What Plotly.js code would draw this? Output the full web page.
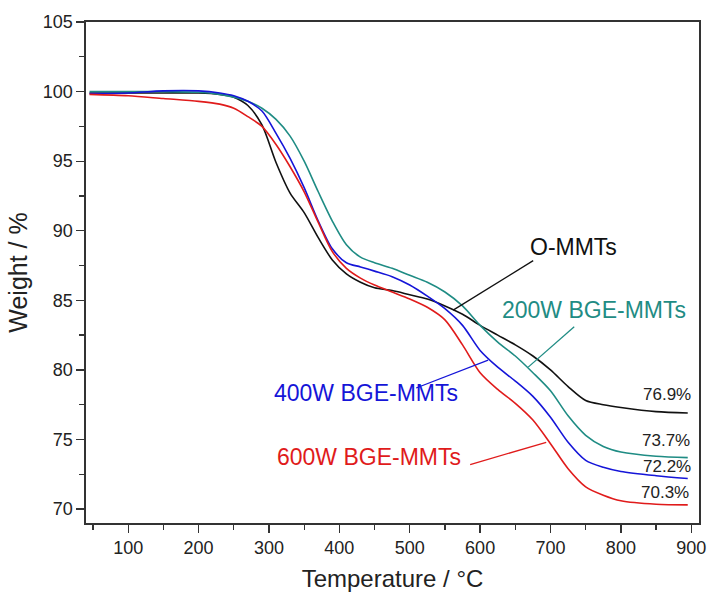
<!DOCTYPE html>
<html>
<head>
<meta charset="utf-8">
<script src="https://cdn.plot.ly/plotly-3.0.1.min.js"></script>
<style>html,body{margin:0;padding:0;background:#fff;}#chart{width:709px;height:594px;}</style>
</head>
<body>
<div id="chart"></div>
<script>
// Temperature (°C)
const temperature = [45, 100, 150, 200, 230, 250, 270, 290, 310, 330, 350, 370, 390, 410, 430, 450, 475, 500, 525, 550, 575, 600, 625, 650, 675, 700, 725, 750, 775, 800, 850, 895];
// Weight (%)
const oMMTs   = [99.9, 99.9, 99.9, 99.9, 99.8, 99.6, 99.0, 97.6, 94.9, 92.7, 91.3, 89.5, 87.9, 86.9, 86.3, 85.9, 85.7, 85.4, 85.1, 84.6, 84.0, 83.2, 82.5, 81.8, 81.0, 80.0, 78.8, 77.8, 77.5, 77.3, 77.0, 76.9];
const bge200W = [100.0, 100.0, 100.0, 99.95, 99.8, 99.6, 99.3, 98.8, 98.0, 96.8, 95.0, 92.8, 90.7, 89.0, 88.1, 87.7, 87.3, 86.8, 86.3, 85.6, 84.6, 83.2, 82.0, 81.0, 79.8, 78.5, 76.7, 75.3, 74.5, 74.1, 73.8, 73.7];
const bge400W = [99.85, 99.9, 100.05, 100.05, 99.9, 99.7, 99.3, 98.6, 97.0, 95.2, 93.1, 90.7, 88.7, 87.7, 87.4, 87.1, 86.7, 86.1, 85.3, 84.4, 83.2, 81.4, 80.2, 79.2, 78.1, 76.6, 74.8, 73.5, 73.0, 72.7, 72.4, 72.2];
const bge600W = [99.8, 99.7, 99.5, 99.3, 99.1, 98.8, 98.2, 97.5, 96.2, 94.6, 92.8, 90.6, 88.5, 87.3, 86.6, 86.1, 85.6, 85.1, 84.5, 83.6, 81.8, 79.8, 78.6, 77.6, 76.4, 74.7, 72.9, 71.6, 71.0, 70.6, 70.35, 70.3];
const seriesNames = ["O-MMTs", "200W BGE-MMTs", "400W BGE-MMTs", "600W BGE-MMTs"];
const residueLabels = ["76.9%", "73.7%", "72.2%", "70.3%"];

const colors = ["#111111", "#1f8c84", "#1515d8", "#e01b1b"];
const series = [oMMTs, bge200W, bge400W, bge600W];

const traces = series.map((ys, i) => ({
  x: temperature, y: ys, type: "scatter", mode: "lines",
  name: seriesNames[i],
  line: {color: colors[i], width: 1.6, shape: "spline", smoothing: 0.8},
  hoverinfo: "skip"
}));

const FONT = "Liberation Sans, Arial, sans-serif";

// series label positions & leader lines (data coords)
const labelPos = [
  {x: 732, y: 88.85, lx: [675.4, 561.7], ly: [87.85, 84.3]},
  {x: 762, y: 84.3,  lx: [733.7, 668.3], ly: [83.1, 80.2]},
  {x: 438, y: 78.35, lx: [509.1, 611.4], ly: [78.7, 80.7]},
  {x: 442, y: 73.75, lx: [585.8, 693.9], ly: [73.2, 74.8]}
];
const residuePos = [
  {x: 865, y: 78.2},
  {x: 864, y: 74.9},
  {x: 865, y: 73.03},
  {x: 862, y: 71.16}
];

const annotations = [];
const shapes = [];
labelPos.forEach((p, i) => {
  annotations.push({x: p.x, y: p.y, xref: "x", yref: "y", text: seriesNames[i], showarrow: false,
    font: {family: FONT, size: 23, color: colors[i]}, xanchor: "center", yanchor: "middle"});
  shapes.push({type: "line", xref: "x", yref: "y", x0: p.lx[0], y0: p.ly[0], x1: p.lx[1], y1: p.ly[1],
    line: {color: colors[i], width: 1.3}});
});
residuePos.forEach((p, i) => {
  annotations.push({x: p.x, y: p.y, xref: "x", yref: "y", text: residueLabels[i], showarrow: false,
    font: {family: FONT, size: 17, color: "#222"}, xanchor: "center", yanchor: "middle"});
});

const layout = {
  width: 709, height: 594,
  margin: {l: 86, r: 10, t: 22, b: 71},
  paper_bgcolor: "#fff", plot_bgcolor: "#fff",
  showlegend: false,
  font: {family: FONT, color: "#222"},
  xaxis: {
    range: [40, 911], tick0: 0, dtick: 100,
    showgrid: false, zeroline: false,
    showline: true, linecolor: "#333", linewidth: 1.6, mirror: true,
    ticks: "outside", ticklen: 8, tickwidth: 1.3, tickcolor: "#333",
    minor: {dtick: 50, tick0: 0, ticks: "outside", ticklen: 5, tickwidth: 1.3, tickcolor: "#333", showgrid: false},
    tickfont: {family: FONT, size: 18, color: "#222"},
    title: {text: "Temperature / °C", font: {family: FONT, size: 24, color: "#222"}, standoff: 13}
  },
  yaxis: {
    range: [69, 105], tick0: 0, dtick: 5,
    showgrid: false, zeroline: false,
    showline: true, linecolor: "#333", linewidth: 1.6, mirror: true,
    ticks: "outside", ticklen: 8, tickwidth: 1.3, tickcolor: "#333",
    minor: {dtick: 2.5, tick0: 0, ticks: "outside", ticklen: 5, tickwidth: 1.3, tickcolor: "#333", showgrid: false},
    tickfont: {family: FONT, size: 18, color: "#222"},
    title: {text: "Weight / %", font: {family: FONT, size: 25, color: "#222"}, standoff: 8}
  },
  annotations: annotations,
  shapes: shapes
};

Plotly.newPlot("chart", traces, layout, {displayModeBar: false, staticPlot: true});
</script>
</body>
</html>
